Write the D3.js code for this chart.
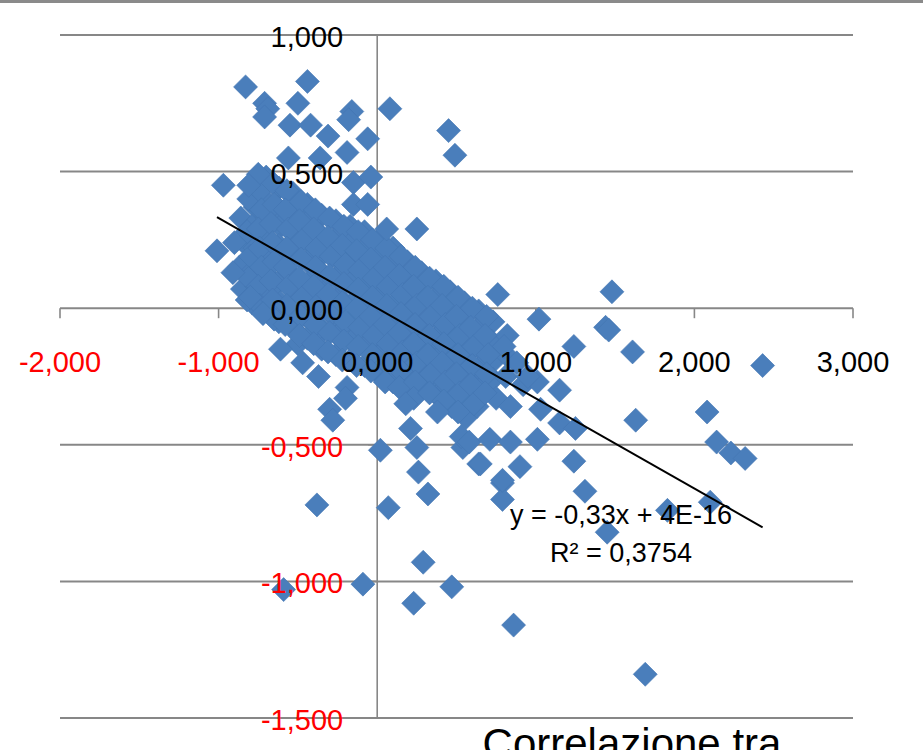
<!DOCTYPE html>
<html>
<head>
<meta charset="utf-8">
<script src="https://cdn.jsdelivr.net/npm/d3@7"></script>
<style>
  html, body { margin: 0; padding: 0; background: #fff; }
  svg { display: block; }
  text { font-family: "Liberation Sans", Arial, sans-serif; }
</style>
</head>
<body>
<svg id="chart" width="923" height="750"></svg>
<script>
// ---- Data ----
const xTicks = [-2, -1, 0, 1, 2, 3];
const yTicks = [-1.5, -1, -0.5, 0, 0.5, 1];

// dense core of the cloud (first set)
const coreX = [
  -0.86,-0.84,-0.87,-0.85,
  -0.78,-0.77,-0.79,-0.77,-0.78,-0.76,-0.79,
  -0.70,-0.71,-0.69,-0.70,-0.71,-0.69,-0.70,-0.68,
  -0.62,-0.63,-0.61,-0.62,-0.60,-0.63,-0.61,-0.62,
  -0.53,-0.54,-0.52,-0.53,-0.55,-0.52,-0.54,-0.52,-0.50,
  -0.44,-0.45,-0.43,-0.44,-0.42,-0.45,-0.43,-0.44,
  -0.35,-0.36,-0.34,-0.35,-0.33,-0.36,-0.34,-0.35,
  -0.26,-0.27,-0.25,-0.26,-0.24,-0.27,-0.25,-0.26,
  -0.17,-0.18,-0.16,-0.17,-0.15,-0.18,-0.16,-0.17,
  -0.08,-0.09,-0.07,-0.08,-0.06,-0.09,-0.07,-0.08,
  0.01,0.00,0.02,0.01,0.03,0.00,0.02,0.01,
  0.10,0.09,0.11,0.10,0.12,0.09,0.11,0.10,
  0.19,0.18,0.20,0.19,0.21,0.18,0.20,0.19,
  0.28,0.27,0.29,0.28,0.30,0.27,0.29,
  0.37,0.36,0.38,0.37,0.39,0.36,0.38,
  0.46,0.45,0.47,0.46,0.48,0.45,0.47,
  0.55,0.54,0.56,0.55,0.57,0.54,0.56,
  0.64,0.63,0.65,0.64,0.66,0.63,
  0.73,0.72,0.74,0.73,0.75,
  0.82,0.83,0.81,0.80,0.88,0.92
];
const coreY = [
  0.33,0.24,0.15,0.07,
  0.45,0.37,0.30,0.22,0.14,0.08,0.02,
  0.48,0.40,0.33,0.26,0.19,0.12,0.05,-0.02,
  0.44,0.37,0.30,0.23,0.16,0.09,0.02,-0.05,
  0.42,0.35,0.27,0.20,0.13,0.06,-0.01,-0.08,-0.13,
  0.38,0.31,0.24,0.17,0.10,0.03,-0.04,-0.11,
  0.34,0.27,0.20,0.13,0.06,-0.01,-0.08,-0.15,
  0.32,0.25,0.18,0.11,0.04,-0.03,-0.10,-0.17,
  0.30,0.23,0.16,0.09,0.02,-0.05,-0.12,-0.19,
  0.28,0.21,0.14,0.07,0.00,-0.07,-0.14,-0.21,
  0.25,0.18,0.11,0.04,-0.03,-0.10,-0.17,-0.24,
  0.22,0.15,0.08,0.01,-0.06,-0.13,-0.20,-0.27,
  0.17,0.10,0.03,-0.04,-0.11,-0.18,-0.25,-0.31,
  0.13,0.06,-0.01,-0.08,-0.15,-0.22,-0.29,
  0.10,0.03,-0.04,-0.11,-0.18,-0.25,-0.32,
  0.06,-0.01,-0.08,-0.15,-0.22,-0.29,-0.36,
  0.02,-0.05,-0.12,-0.19,-0.26,-0.33,-0.40,
  -0.01,-0.08,-0.15,-0.22,-0.29,-0.36,
  -0.05,-0.12,-0.19,-0.26,-0.33,
  -0.10,-0.18,-0.25,-0.14,-0.20,-0.28
];
// dense core (second, in-between set)
const core2X = [
  -0.81,-0.82,-0.80,-0.81,-0.82,
  -0.74,-0.73,-0.75,-0.74,-0.73,-0.75,-0.74,
  -0.66,-0.65,-0.67,-0.66,-0.65,-0.67,-0.66,-0.65,
  -0.57,-0.58,-0.56,-0.57,-0.58,-0.56,-0.57,-0.58,
  -0.48,-0.49,-0.47,-0.48,-0.49,-0.47,-0.48,-0.49,
  -0.39,-0.40,-0.38,-0.39,-0.40,-0.38,-0.39,-0.40,
  -0.30,-0.31,-0.29,-0.30,-0.31,-0.29,-0.30,-0.31,
  -0.21,-0.22,-0.20,-0.21,-0.22,-0.20,-0.21,-0.22,
  -0.12,-0.13,-0.11,-0.12,-0.13,-0.11,-0.12,-0.13,
  -0.03,-0.04,-0.02,-0.03,-0.04,-0.02,-0.03,-0.04,
  0.06,0.05,0.07,0.06,0.05,0.07,0.06,0.05,
  0.15,0.14,0.16,0.15,0.14,0.16,0.15,0.14,
  0.24,0.23,0.25,0.24,0.23,0.25,0.24,0.23,
  0.33,0.32,0.34,0.33,0.32,0.34,0.33,
  0.42,0.41,0.43,0.42,0.41,0.43,0.42,
  0.51,0.50,0.52,0.51,0.50,0.52,0.51,
  0.60,0.59,0.61,0.60,0.59,0.61,
  0.69,0.68,0.70,0.69,0.68
];
const core2Y = [
  0.40,0.28,0.19,0.11,0.03,
  0.43,0.36,0.29,0.22,0.15,0.08,0.01,
  0.46,0.38,0.31,0.24,0.17,0.10,0.03,-0.04,
  0.43,0.36,0.29,0.22,0.15,0.08,0.01,-0.06,
  0.39,0.32,0.25,0.18,0.11,0.04,-0.03,-0.10,
  0.36,0.29,0.22,0.15,0.08,0.01,-0.06,-0.13,
  0.33,0.26,0.19,0.12,0.05,-0.02,-0.09,-0.16,
  0.30,0.23,0.16,0.09,0.02,-0.05,-0.12,-0.19,
  0.28,0.21,0.14,0.07,0.00,-0.07,-0.14,-0.21,
  0.25,0.18,0.11,0.04,-0.03,-0.10,-0.17,-0.23,
  0.22,0.15,0.08,0.01,-0.06,-0.13,-0.20,-0.27,
  0.19,0.12,0.05,-0.02,-0.09,-0.16,-0.23,-0.29,
  0.15,0.08,0.01,-0.06,-0.13,-0.20,-0.27,-0.33,
  0.11,0.04,-0.03,-0.10,-0.17,-0.24,-0.31,
  0.08,0.01,-0.06,-0.13,-0.20,-0.27,-0.34,
  0.04,-0.03,-0.10,-0.17,-0.24,-0.31,-0.38,
  0.00,-0.07,-0.14,-0.21,-0.28,-0.35,
  -0.03,-0.10,-0.17,-0.24,-0.31
];
// scattered points around the core
const outerX = [
  -0.83,-0.44,-0.71,-0.69,-0.71,-0.50,-0.55,-0.42,-0.31,-0.16,-0.18,-0.06,-0.19,0.08,0.45,0.49,
  -0.56,-0.36,-0.75,-0.97,-0.81,-0.15,-0.04,-0.15,-0.06,0.06,0.25,
  -1.01,-0.90,-0.91,-0.80,-0.72,-0.61,-0.47,-0.37,-0.19,-0.20,-0.30,-0.28,
  0.02,0.25,0.26,0.32,0.07,-0.38,0.21,0.18,0.38,0.54,0.64,0.53,0.58,
  0.29,-0.09,-0.59,0.23,0.47,0.86,1.69,0.79,0.79,1.31,1.45,1.83,2.10,
  0.76,1.48,1.02,1.44,1.46,1.61,1.24,2.43,1.15,2.08,1.63,2.14,2.23,2.32,
  1.24,1.01,0.90,0.79,0.84,1.01,1.03,1.15,1.25,0.95,0.71,0.65,0.84
];
const outerY = [
  0.81,0.83,0.75,0.73,0.70,0.75,0.67,0.67,0.63,0.72,0.69,0.62,0.57,0.73,0.65,0.56,
  0.55,0.55,0.49,0.45,0.45,0.46,0.48,0.38,0.38,0.29,0.29,
  0.21,0.24,0.13,0.04,-0.02,-0.15,-0.20,-0.25,-0.29,-0.33,-0.37,-0.41,
  -0.52,-0.51,-0.60,-0.68,-0.73,-0.72,-0.44,-0.35,-0.38,-0.51,-0.57,-0.47,-0.49,
  -0.93,-1.01,-1.03,-1.08,-1.02,-1.16,-1.34,-0.64,-0.70,-0.67,-0.82,-0.74,-0.71,
  0.05,0.06,-0.04,-0.07,-0.08,-0.16,-0.14,-0.21,-0.30,-0.38,-0.41,-0.49,-0.53,-0.55,
  -0.56,-0.48,-0.58,-0.63,-0.36,-0.27,-0.37,-0.42,-0.44,-0.25,-0.48,-0.57,-0.49
];
const slope = -0.33;
const intercept = 4e-16;
const equationText = "y = -0,33x + 4E-16";
const r2Text = "R² = 0,3754";
const titleText = "Correlazione tra";

// ---- Layout ----
const svg = d3.select("#chart");
const W = 923, H = 750;
const x = d3.scaleLinear().domain([-2, 3]).range([60, 853]);
const y = d3.scaleLinear().domain([-1.5, 1]).range([718, 35]);
const loc = d3.formatLocale({decimal: ",", thousands: ".", grouping: [3], currency: ["", "€"], minus: "-"});
const fmt = loc.format(".3f");
const gridColor = "#878787";

svg.append("rect").attr("width", W).attr("height", H).attr("fill", "#fff");
// top border of the frame
svg.append("rect").attr("x", 0).attr("y", 0).attr("width", W).attr("height", 3).attr("fill", "#8a8a8a");

// horizontal gridlines
svg.append("g").selectAll("line").data(yTicks).join("line")
  .attr("x1", x(-2)).attr("x2", x(3))
  .attr("y1", d => y(d)).attr("y2", d => y(d))
  .attr("stroke", gridColor).attr("stroke-width", 2);

// vertical axis line at x = 0
svg.append("line")
  .attr("x1", x(0)).attr("x2", x(0)).attr("y1", y(1)).attr("y2", y(-1.5))
  .attr("stroke", gridColor).attr("stroke-width", 1.6);

// x-axis tick marks (below axis at y = 0)
svg.append("g").selectAll("line").data(xTicks).join("line")
  .attr("x1", d => x(d)).attr("x2", d => x(d))
  .attr("y1", y(0)).attr("y2", y(0) + 10)
  .attr("stroke", gridColor).attr("stroke-width", 1.6);
// y-axis tick marks (left of axis)
svg.append("g").selectAll("line").data(yTicks).join("line")
  .attr("x1", x(0) - 9).attr("x2", x(0))
  .attr("y1", d => y(d)).attr("y2", d => y(d))
  .attr("stroke", gridColor).attr("stroke-width", 1.6);

// points
const pts = coreX.map((v, i) => ({x: v, y: coreY[i]}))
  .concat(core2X.map((v, i) => ({x: v, y: core2Y[i]})))
  .concat(outerX.map((v, i) => ({x: v, y: outerY[i]})));
const s = 12;
svg.append("g").selectAll("path").data(pts).join("path")
  .attr("d", `M0,${-s}L${s},0L0,${s}L${-s},0Z`)
  .attr("transform", d => `translate(${x(d.x)},${y(d.y)})`)
  .attr("fill", "#4a7ebb")
  .attr("stroke", "#4375b2")
  .attr("stroke-width", 0.6);

// trendline over the data range
const xs = pts.map(d => d.x);
const tx0 = d3.min(xs), tx1 = d3.max(xs);
svg.append("line")
  .attr("x1", x(tx0)).attr("y1", y(slope * tx0 + intercept))
  .attr("x2", x(tx1)).attr("y2", y(slope * tx1 + intercept))
  .attr("stroke", "#000").attr("stroke-width", 2);

// y tick labels
svg.append("g").selectAll("text").data(yTicks).join("text")
  .attr("x", x(0) - 34).attr("y", d => y(d) + 2)
  .attr("text-anchor", "end").attr("dominant-baseline", "central")
  .attr("font-size", 29)
  .attr("fill", d => d < 0 ? "#ff0000" : "#000")
  .text(d => fmt(d));

// x tick labels
svg.append("g").selectAll("text").data(xTicks).join("text")
  .attr("x", d => x(d)).attr("y", 362)
  .attr("text-anchor", "middle").attr("dominant-baseline", "central")
  .attr("font-size", 29)
  .attr("fill", d => d < 0 ? "#ff0000" : "#000")
  .text(d => fmt(d));

// trendline equation
svg.append("text").attr("x", 621).attr("y", 515)
  .attr("text-anchor", "middle").attr("dominant-baseline", "central")
  .attr("font-size", 27).attr("fill", "#000").text(equationText);
svg.append("text").attr("x", 621).attr("y", 553)
  .attr("text-anchor", "middle").attr("dominant-baseline", "central")
  .attr("font-size", 27).attr("fill", "#000").text(r2Text);

// title (cut off at bottom, as in the reference)
svg.append("text").attr("x", 632).attr("y", 758)
  .attr("text-anchor", "middle")
  .attr("font-size", 42).attr("fill", "#000").text(titleText);
</script>
</body>
</html>
